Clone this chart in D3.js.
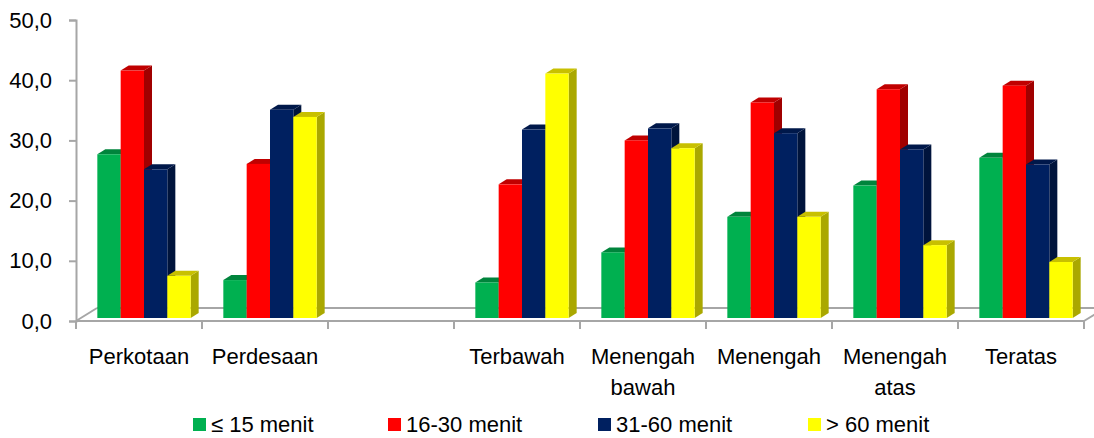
<!DOCTYPE html>
<html>
<head>
<meta charset="utf-8">
<script src="https://cdn.jsdelivr.net/npm/d3@7"></script>
<style>
  html, body { margin: 0; padding: 0; background: #fff; }
  svg { display: block; font-family: "Liberation Sans", Arial, sans-serif; }
</style>
</head>
<body>
<svg id="chart" width="1094" height="438"></svg>
<script>
// Travel time to work, percentage by area and income group
const categories = ["Perkotaan", "Perdesaan", "", "Terbawah", "Menengah bawah", "Menengah", "Menengah atas", "Teratas"];
const seriesNames = ["≤ 15 menit", "16-30 menit", "31-60 menit", "> 60 menit"];
const upTo15 = [27.2, 6.3, null, 5.9, 10.9, 16.8, 22.0, 26.6];
const from16to30 = [41.1, 25.6, null, 22.2, 29.5, 35.8, 38.0, 38.6];
const from31to60 = [24.7, 34.6, null, 31.3, 31.5, 30.7, 28.0, 25.5];
const over60 = [7.0, 33.4, null, 40.6, 28.2, 16.8, 12.1, 9.3];
const yTicks = [0, 10, 20, 30, 40, 50];

const seriesValues = [upTo15, from16to30, from31to60, over60];
const palette = [
  { front: "#00b050", top: "#00843c", side: "#007a36" },
  { front: "#ff0000", top: "#c00000", side: "#a00000" },
  { front: "#002060", top: "#00184a", side: "#00143c" },
  { front: "#ffff00", top: "#c8c000", side: "#aaa800" }
];

const svg = d3.select("#chart");
const fmt = v => d3.format(".1f")(v).replace(".", ",");

// plot frame (front plane of the 3D floor)
const plotLeft = 76, plotRight = 1084, plotTop = 20, plotBase = 321;
const floorDx = 21, floorDy = 13;     // floor depth offset
const barShiftX = 5, barShiftY = 3;   // bars stand inside the floor
const depthX = 8, depthY = 5;         // bar thickness

const x = d3.scaleBand().domain(d3.range(categories.length)).range([plotLeft, plotRight]).padding(0);
const xs = d3.scaleBand().domain(d3.range(seriesNames.length)).range([0, x.bandwidth()])
  .paddingInner(0).paddingOuter(0.7);
const y = d3.scaleLinear().domain([0, 50]).range([plotBase, plotTop]);

const axisColor = "#a6a6a6";

// floor outline
const floor = svg.append("g").attr("fill", "none").attr("stroke", axisColor).attr("stroke-width", 2);
floor.append("line").attr("x1", plotLeft + floorDx).attr("y1", plotBase - floorDy).attr("x2", plotRight + floorDx).attr("y2", plotBase - floorDy);
floor.append("line").attr("x1", plotLeft).attr("y1", plotBase).attr("x2", plotLeft + floorDx).attr("y2", plotBase - floorDy);
floor.append("line").attr("x1", plotRight).attr("y1", plotBase).attr("x2", plotRight + floorDx).attr("y2", plotBase - floorDy);

// bars
const barsG = svg.append("g");
categories.forEach((c, ci) => {
  seriesValues.forEach((vals, si) => {
    const v = vals[ci];
    if (v == null) return;
    const x0 = x(ci) + xs(si) + barShiftX;
    const w = xs.bandwidth();
    const y0 = y(0) - barShiftY;
    const yt = y(v) - barShiftY;
    const col = palette[si];
    const g = barsG.append("g");
    g.append("polygon")
      .attr("points", [[x0 + w, yt], [x0 + w + depthX, yt - depthY], [x0 + w + depthX, y0 - depthY], [x0 + w, y0]].join(" "))
      .attr("fill", col.side);
    g.append("polygon")
      .attr("points", [[x0, yt], [x0 + depthX, yt - depthY], [x0 + w + depthX, yt - depthY], [x0 + w, yt]].join(" "))
      .attr("fill", col.top);
    g.append("rect")
      .attr("x", x0).attr("y", yt).attr("width", w).attr("height", y0 - yt)
      .attr("fill", col.front);
  });
});

// value axis
const yAxis = d3.axisLeft(y).tickValues(yTicks).tickSize(7).tickPadding(17).tickFormat(fmt);
const yg = svg.append("g").attr("transform", `translate(${plotLeft},0)`).call(yAxis);
yg.select(".domain").attr("stroke", axisColor).attr("stroke-width", 2);
yg.selectAll(".tick line").attr("stroke", axisColor).attr("stroke-width", 2);
yg.selectAll(".tick text").attr("font-size", 22).attr("fill", "#000")
  .attr("font-family", "Liberation Sans, Arial, sans-serif");

// category axis
const xg = svg.append("g").attr("transform", `translate(0,${plotBase})`);
xg.append("line").attr("x1", plotLeft).attr("x2", plotRight).attr("stroke", axisColor).attr("stroke-width", 2);
const bounds = d3.range(categories.length + 1).map(i => i < categories.length ? x(i) : plotRight);
xg.selectAll("line.tk").data(bounds).join("line").attr("class", "tk")
  .attr("x1", d => d).attr("x2", d => d).attr("y1", 0).attr("y2", 8)
  .attr("stroke", axisColor).attr("stroke-width", 2);
const labels = xg.selectAll("text.cat").data(categories).join("text").attr("class", "cat")
  .attr("x", (d, i) => x(i) + x.bandwidth() / 2)
  .attr("y", 43)
  .attr("text-anchor", "middle").attr("font-size", 22).attr("fill", "#000");
labels.each(function (d) {
  const parts = d ? d.split(" ") : [];
  const t = d3.select(this);
  parts.forEach((p, k) => {
    t.append("tspan").attr("x", t.attr("x")).attr("dy", k === 0 ? 0 : 31).text(p);
  });
});

// legend
const legendX = [193, 388, 598, 808];
const legend = svg.append("g").attr("transform", "translate(0,418)");
seriesNames.forEach((name, i) => {
  legend.append("rect").attr("x", legendX[i]).attr("y", 0).attr("width", 13).attr("height", 13)
    .attr("fill", palette[i].front);
  legend.append("text").attr("x", legendX[i] + 18).attr("y", 14)
    .attr("font-size", 22).attr("fill", "#000").text(name);
});
</script>
</body>
</html>
